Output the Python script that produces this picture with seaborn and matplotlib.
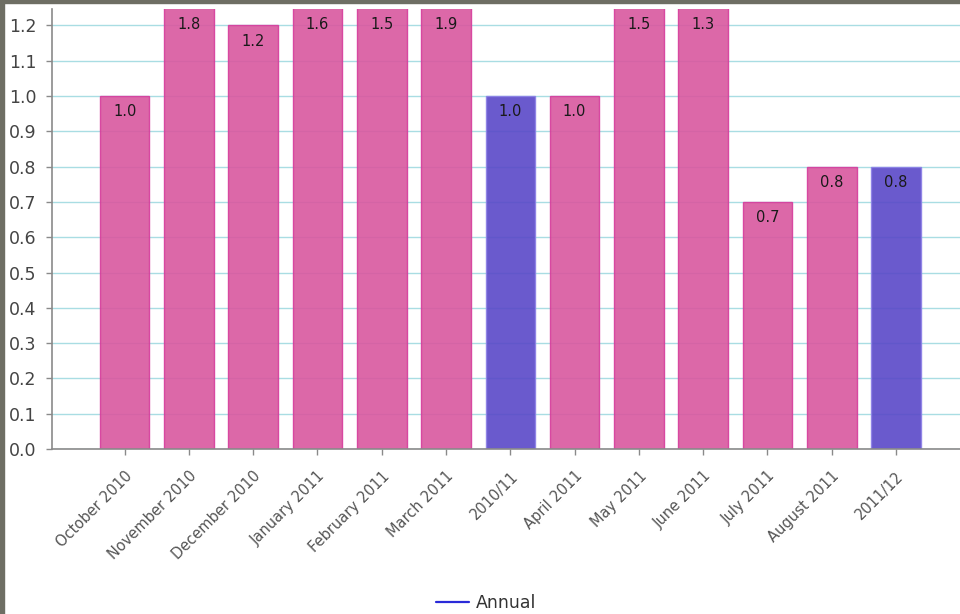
import matplotlib
matplotlib.use("Agg")
import matplotlib.pyplot as plt
import matplotlib.transforms as mtransforms
from matplotlib.lines import Line2D
from matplotlib.patches import Rectangle
import seaborn as sns
import pandas as pd

categories = ["October 2010", "November 2010", "December 2010", "January 2011",
              "February 2011", "March 2011", "2010/11", "April 2011", "May 2011",
              "June 2011", "July 2011", "August 2011", "2011/12"]
values = [1.0, 1.8, 1.2, 1.6, 1.5, 1.9, 1.0, 1.0, 1.5, 1.3, 0.7, 0.8, 0.8]
kinds = ["Monthly", "Monthly", "Monthly", "Monthly", "Monthly", "Monthly", "Annual",
         "Monthly", "Monthly", "Monthly", "Monthly", "Monthly", "Annual"]
y_ticks = [0.0, 0.1, 0.2, 0.3, 0.4, 0.5, 0.6, 0.7, 0.8, 0.9, 1.0, 1.1, 1.2]
legend_label = "Annual"

fill = {"Monthly": "#d9579f", "Annual": "#5a48c8"}
edge = {"Monthly": "#d63c9c", "Annual": "#8c80e6"}

df = pd.DataFrame({"category": categories, "value": values, "kind": kinds})

sns.set_style("white")
fig = plt.figure(figsize=(9.6, 6.14), dpi=100)
ax = fig.add_axes([52 / 960, 1 - 449 / 614, 1 - 52 / 960, (449 - 8.5) / 614])

ytop = (449 - 8.5) / 353.0

for y in y_ticks:
    ax.axhline(y, color="#a9dde3", lw=1.0, zorder=0.5)

sns.barplot(data=df, x="category", y="value", hue="kind", palette=fill,
            dodge=False, width=0.77, legend=False, ax=ax, zorder=2, alpha=0.9,
            saturation=1)

for p in ax.patches:
    xc = p.get_x() + p.get_width() / 2
    idx = int(round(xc))
    if 0 <= idx < len(kinds) and p.get_height() > 0:
        p.set_edgecolor(edge[kinds[idx]])
        p.set_linewidth(1.0)

ax.set_ylim(0, ytop)
ax.set_xlim(-1.13, 12.995)
ax.set_yticks(y_ticks)
ax.set_yticklabels([f"{t:.1f}" for t in y_ticks])
ax.set_xlabel("")
ax.set_ylabel("")

for i, v in enumerate(values):
    ax.annotate(f"{v:.1f}", xy=(i, min(v, ytop)), xytext=(0, -11.5),
                textcoords="offset points", ha="center", va="center",
                fontsize=10.5, color="#1a1a1a", zorder=5)

for s in ["top", "right"]:
    ax.spines[s].set_visible(False)
for s in ["left", "bottom"]:
    ax.spines[s].set_color("#8a8a8a")
    ax.spines[s].set_linewidth(1.2)

ax.tick_params(axis="y", length=4, width=1, color="#8a8a8a", pad=7,
               labelsize=12.5, labelcolor="#444444", left=True)
ax.tick_params(axis="x", length=4, width=1, color="#8a8a8a", pad=10,
               labelsize=10.5, labelcolor="#555555", bottom=True)

offset = mtransforms.ScaledTranslation(0 / 100, 0, fig.dpi_scale_trans)
for lab in ax.get_xticklabels():
    lab.set_rotation(45)
    lab.set_ha("right")
    lab.set_va("top")
    lab.set_rotation_mode("anchor")
    lab.set_transform(lab.get_transform() + offset)

handle = Line2D([], [], color="#2a2ad8", lw=1.6)
fig.legend([handle], [legend_label], loc="center", bbox_to_anchor=(486 / 960, 1 - 603 / 614),
           frameon=False, fontsize=12.5, handlelength=1.9, handletextpad=0.4,
           labelcolor="#333333")

frame_col = "#6e6e64"
fig.patches.append(Rectangle((0, 0), 4 / 960, 1, transform=fig.transFigure,
                             color=frame_col, zorder=10))
fig.patches.append(Rectangle((0, 1 - 3 / 614), 1, 3 / 614, transform=fig.transFigure,
                             color=frame_col, zorder=10))

fig.savefig("out.png", dpi=100)
